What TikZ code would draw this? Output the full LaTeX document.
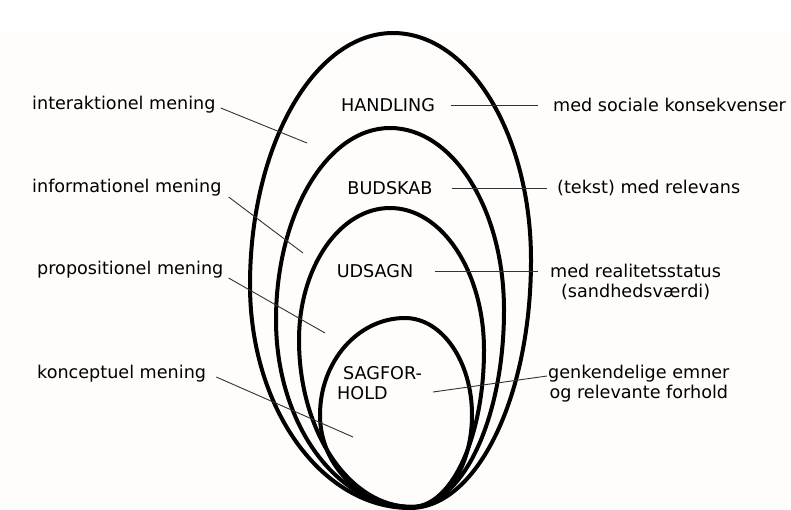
\documentclass[tikz,border=0pt]{standalone}
\usepackage{fontspec}
\setmainfont{DejaVu Sans}
\usetikzlibrary{calc}
\definecolor{cream}{RGB}{255,253,251}
\begin{document}
\begin{tikzpicture}[x=1pt,y=-1pt,
  lbl/.style={font=\fontsize{17.6}{20}\selectfont, inner sep=0pt},
  ring/.style={line width=4pt, black, line join=round},
  conn/.style={line width=0.9pt, black!80}]
\useasboundingbox (0,0) rectangle (791,509);
\fill[white] (0,0) rectangle (791,509);
\fill[cream] (0,33) rectangle (791,509);
% rings
\draw[ring] (393,33) .. controls (469.2,33) and (531,134.6) .. (531,260)
  .. controls (531,397) and (476.8,508) .. (410,508)
  .. controls (321.6,508) and (250,408.2) .. (250,285)
  .. controls (250,145.8) and (314,33) .. cycle;
\draw[ring] (390,128) .. controls (453,128) and (504,209.5) .. (504,310)
  .. controls (504,418.8) and (462.4,507) .. (411,507)
  .. controls (336.4,507) and (276,423.3) .. (276,320)
  .. controls (276,214) and (327,128) .. cycle;
\draw[ring] (390,208) .. controls (441.9,208) and (484,271.6) .. (484,350)
  .. controls (484,436.7) and (451.8,507) .. (412,507)
  .. controls (349.6,507) and (299,432.2) .. (299,340)
  .. controls (299,267.1) and (339.7,208) .. cycle;
\draw[ring] (405,318) .. controls (442,318) and (472,361.4) .. (472,415)
  .. controls (472,465.8) and (445.6,507) .. (413,507)
  .. controls (361.6,507) and (320,465.8) .. (320,415)
  .. controls (320,361.4) and (358.1,318) .. cycle;
% inner labels
\node[lbl] (h) at (388,105) {HANDLING};
\node[lbl] (b) at (390,188) {BUDSKAB};
\node[lbl] (u) at (375,271) {UDSAGN};
\node[lbl, align=left, anchor=west] (s) at (337,383) {\hspace*{6pt}SAGFOR-\\HOLD};
% left labels
\node[lbl, anchor=west] (il) at (32,105) {interaktionel mening};
\node[lbl, anchor=west] (if) at (32,188) {informationel mening};
\node[lbl, anchor=west] (ip) at (37,270) {propositionel mening};
\node[lbl, anchor=west] (ik) at (37,374) {konceptuel mening};
% right labels
\node[lbl, anchor=west] (r1) at (553,105) {med sociale konsekvenser};
\node[lbl, anchor=west] (r2) at (557,188) {(tekst) med relevans};
\node[lbl, anchor=west, align=center] (r3) at (550,282) {med realitetsstatus\\(sandhedsværdi)};
\node[lbl, anchor=west, align=center] (r4) at (548,384) {genkendelige emner\\og relevante forhold};
% free ends
\coordinate (e1) at (307,143);
\coordinate (e2) at (303,253);
\coordinate (e3) at (325,333);
\coordinate (e4) at (353,437);
\coordinate (e5) at (433,392);
% connectors
\draw[conn] ($(il.east)+(5,3)$) -- (e1);
\draw[conn] ($(if.east)+(7,9)$) -- (e2);
\draw[conn] ($(ip.east)+(5,8)$) -- (e3);
\draw[conn] ($(ik.east)+(10,3)$) -- (e4);
\draw[conn] ($(h.east)+(16,0)$) -- ($(h.east -| r1.west)+(-15,0)$);
\draw[conn] ($(b.east)+(19,0)$) -- ($(b.east -| r2.west)+(-10,0)$);
\draw[conn] ($(u.east)+(22,0)$) -- ($(u.east -| r3.west)+(-12,0)$);
\draw[conn] (e5) -- ($(r4.west)+(-1,-8)$);
\end{tikzpicture}
\end{document}
